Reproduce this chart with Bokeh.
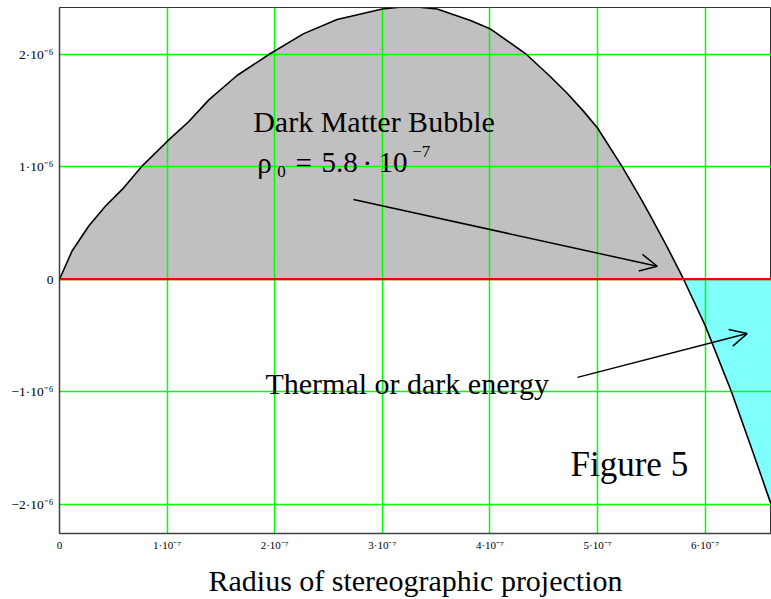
import numpy as np
from bokeh.plotting import figure
from bokeh.models import Range1d, FixedTicker, Label, Arrow, OpenHead, Span
from bokeh.embed import file_html
from bokeh.resources import INLINE

# Radius in units of 1e-7, density in units of 1e-6
radius = [0, 0.056, 0.118, 0.272, 0.428, 0.583, 0.762, 1.0, 1.202, 1.388, 1.65, 1.961,
          2.27, 2.58, 3.0, 3.25, 3.51, 3.82, 4.0, 4.33, 4.563, 4.718, 4.873, 5.0, 5.229,
          5.4, 5.493, 5.648, 5.8, 6.0, 6.245, 6.42, 6.608]
density = [0, 0.120, 0.253, 0.473, 0.650, 0.798, 1.0, 1.224, 1.401, 1.593, 1.81, 2.005,
           2.182, 2.308, 2.40, 2.425, 2.40, 2.299, 2.226, 2.005, 1.799, 1.652, 1.489, 1.343,
           1.0, 0.72, 0.56, 0.285, 0.0, -0.41, -1.0, -1.47, -1.985]

x_ticks = [0, 1, 2, 3, 4, 5, 6]
x_tick_labels = ["0", "1·10⁻⁷", "2·10⁻⁷", "3·10⁻⁷", "4·10⁻⁷", "5·10⁻⁷", "6·10⁻⁷"]
y_ticks = [-2, -1, 0, 1, 2]
y_tick_labels = ["−2·10⁻⁶", "−1·10⁻⁶", "0", "1·10⁻⁶", "2·10⁻⁶"]

SERIF = "Liberation Serif"
X0, X1 = 0.0, 6.617
Y0, Y1 = -2.259, 2.414

p = figure(width=771, height=599,
           x_range=Range1d(X0, X1), y_range=Range1d(Y0, Y1),
           output_backend="svg", toolbar_location=None,
           min_border_left=59, min_border_right=0, min_border_top=7, min_border_bottom=63)

p.background_fill_color = "white"
p.border_fill_color = "white"
p.outline_line_color = "#333333"
p.outline_line_width = 1

# Fill between the density curve and zero: grey where positive, cyan where negative.
# Rendered as a raster (one cell per screen pixel of the frame).
W, H = 712, 529
xx = X0 + (np.arange(W) + 0.5) / W * (X1 - X0)
yy = Y0 + (np.arange(H) + 0.5) / H * (Y1 - Y0)
curve = np.interp(xx, radius, density)
Yg, Cg = np.meshgrid(yy, curve, indexing="ij")
img = np.zeros((H, W), dtype=np.uint32)
view = img.view(dtype=np.uint8).reshape((H, W, 4))
view[(Yg >= 0) & (Yg <= Cg)] = [192, 192, 192, 255]
view[(Yg <= 0) & (Yg >= Cg)] = [128, 255, 255, 255]
p.image_rgba(image=[img], x=X0, y=Y0, dw=X1 - X0, dh=Y1 - Y0, level="image")

for g, t in ((p.xgrid, x_ticks), (p.ygrid, y_ticks)):
    g.ticker = FixedTicker(ticks=t)
    g.grid_line_color = "#00FF00"
    g.grid_line_width = 1.5
    g.level = "underlay"

p.line(radius, density, line_color="black", line_width=1.6)
p.add_layout(Span(location=0, dimension="width", line_color="#EE0000", line_width=2.2))

for ax, t, lab, fs in ((p.xaxis, x_ticks, x_tick_labels, "11px"),
                       (p.yaxis, y_ticks, y_tick_labels, "13.5px")):
    ax.ticker = FixedTicker(ticks=t)
    ax.major_label_overrides = dict(zip(t, lab))
    ax.major_tick_line_color = None
    ax.minor_tick_line_color = None
    ax.major_tick_out = 0
    ax.major_tick_in = 0
    ax.axis_line_color = "#404040"
    ax.axis_line_width = 1.5
    ax.major_label_text_font = SERIF
    ax.major_label_text_font_size = fs
    ax.major_label_text_color = "black"

p.xaxis.major_label_standoff = 5
p.yaxis.major_label_standoff = 6
p.xaxis.axis_label = "Radius of stereographic projection"
p.xaxis.axis_label_text_font = SERIF
p.xaxis.axis_label_text_font_size = "30px"
p.xaxis.axis_label_text_font_style = "normal"
p.xaxis.axis_label_text_color = "black"
p.xaxis.axis_label_standoff = 10


def lbl(x, y, text, size):
    p.add_layout(Label(x=x, y=y, text=text, text_font=SERIF, text_font_size=size,
                       text_color="black", text_baseline="alphabetic", text_align="left"))


lbl(1.800, 1.405, "Dark Matter Bubble", "30px")
lbl(1.837, 1.036, "ρ", "29px")
lbl(2.023, 0.956, "0", "17px")
lbl(2.193, 1.036, "=", "29px")
lbl(2.435, 1.036, "5.8", "29px")
lbl(2.815, 1.036, "·", "29px")
lbl(2.965, 1.036, "10", "29px")
lbl(3.278, 1.133, "−7", "17px")
lbl(1.914, -0.925, "Thermal or dark energy", "30px")
lbl(4.749, -1.650, "Figure 5", "35px")

p.add_layout(Arrow(x_start=2.732, y_start=0.709, x_end=5.555, y_end=0.115,
                   line_width=1.5, line_color="black",
                   end=OpenHead(size=17, line_width=1.5, line_color="black")))
p.add_layout(Arrow(x_start=4.814, y_start=-0.872, x_end=6.391, y_end=-0.483,
                   line_width=1.5, line_color="black",
                   end=OpenHead(size=17, line_width=1.5, line_color="black")))

open("out.html", "w").write(file_html(p, INLINE))
